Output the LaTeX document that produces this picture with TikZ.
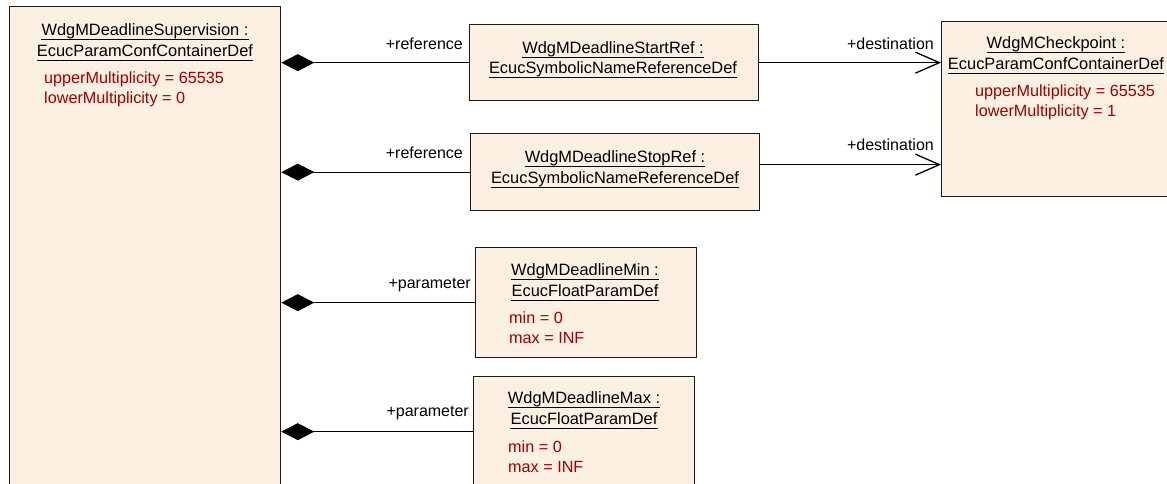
\documentclass[tikz,border=0pt]{standalone}
\usepackage{fontspec}
\setmainfont{Liberation Sans}
\usetikzlibrary{arrows.meta}
\definecolor{boxfill}{HTML}{FBF0E2}
\definecolor{attrred}{HTML}{A00000}
\definecolor{edgecol}{HTML}{1A1A1A}
\tikzset{
  umlbox/.style={draw=edgecol, fill=boxfill, line width=1.3pt, inner sep=0pt, anchor=north west},
  ttl/.style={font=\fontsize{16.4}{19}\selectfont, inner sep=0pt, anchor=base},
  att/.style={font=\fontsize{16.2}{19}\selectfont, text=attrred, inner sep=0pt, anchor=base west},
  lbl/.style={font=\fontsize{16}{19}\selectfont, inner sep=0pt, anchor=base east},
  comp/.style={draw=black, line width=1.3pt, {Diamond[length=33pt,width=17pt]}-},
  dest/.style={draw=black, line width=1.3pt, -{Straight Barb[length=24pt,width=21pt]}},
  ul/.style={line width=1pt}
}
\newcommand{\ulin}[1]{\draw[ul] ([yshift=-4pt]#1.base west) -- ([yshift=-4pt]#1.base east);}
\begin{document}
\begin{tikzpicture}[x=1pt,y=-1pt]
\useasboundingbox (0,0) rectangle (1167,483);
\clip (0,0) rectangle (1167,483);
% boxes
\node[umlbox, minimum width=271pt, minimum height=500pt] (sup) at (9,6) {};
\node[umlbox, minimum width=289pt, minimum height=76pt] (startref) at (469,24) {};
\node[umlbox, minimum width=289pt, minimum height=77pt] (stopref) at (470,133) {};
\node[umlbox, minimum width=240pt, minimum height=175pt] (cp) at (941,21) {};
\node[umlbox, minimum width=221pt, minimum height=110pt] (mn) at (475,247) {};
\node[umlbox, minimum width=221pt, minimum height=130pt] (mx) at (473,376) {};
% sup texts
\node[ttl] (supA) at (145,35) {WdgMDeadlineSupervision :};
\node[ttl] (supB) at (145,56) {EcucParamConfContainerDef};
\ulin{supA}\ulin{supB}
\node[att] (supU) at (44,83) {upperMultiplicity = 65535};
\node[att] (supL) at (44,103) {lowerMultiplicity = 0};
% start ref
\node[ttl] (srA) at (613,53) {WdgMDeadlineStartRef :};
\node[ttl] (srB) at (613,73) {EcucSymbolicNameReferenceDef};
\ulin{srA}\ulin{srB}
% stop ref
\node[ttl] (stA) at (615,162) {WdgMDeadlineStopRef :};
\node[ttl] (stB) at (615,183) {EcucSymbolicNameReferenceDef};
\ulin{stA}\ulin{stB}
% checkpoint
\node[ttl] (cpA) at (1056,48) {WdgMCheckpoint :};
\node[ttl] (cpB) at (1056,69) {EcucParamConfContainerDef};
\ulin{cpA}\ulin{cpB}
\node[att] (cpU) at (975,96) {upperMultiplicity = 65535};
\node[att] (cpL) at (975,116) {lowerMultiplicity = 1};
% min
\node[ttl] (mnA) at (585,275) {WdgMDeadlineMin :};
\node[ttl] (mnB) at (585,296) {EcucFloatParamDef};
\ulin{mnA}\ulin{mnB}
\node[att] (mnU) at (509,323) {min = 0};
\node[att] (mnL) at (509,343) {max = INF};
% max
\node[ttl] (mxA) at (584,403) {WdgMDeadlineMax :};
\node[ttl] (mxB) at (584,424) {EcucFloatParamDef};
\ulin{mxA}\ulin{mxB}
\node[att] (mxU) at (508,452) {min = 0};
\node[att] (mxL) at (508,472) {max = INF};
% connectors
\draw[comp] (startref.west -| sup.east) -- (startref.west);
\draw[comp] (stopref.west -| sup.east) -- (stopref.west);
\draw[comp] (mn.west -| sup.east) -- (mn.west);
\draw[comp] ([yshift=10pt]mx.west -| sup.east) -- ([yshift=10pt]mx.west);
\draw[dest] (startref.east) -- (startref.east -| cp.west);
\draw[dest] ([yshift=7.5pt]stopref.east) -- ([yshift=7.5pt]stopref.east -| cp.west);
% labels
\node[lbl] (l1) at (463,49) {+reference};
\node[lbl] (l2) at (463,158) {+reference};
\node[lbl] (l3) at (471,288) {+parameter};
\node[lbl] (l4) at (469,416) {+parameter};
\node[lbl] (l5) at (934,49) {+destination};
\node[lbl] (l6) at (934,150) {+destination};
\end{tikzpicture}
\end{document}
